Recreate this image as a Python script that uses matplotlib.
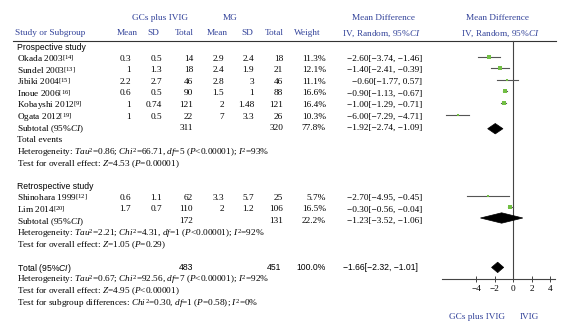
import matplotlib
matplotlib.use("Agg")
import matplotlib.pyplot as plt
from matplotlib.patches import Polygon

plt.rcParams["mathtext.fontset"] = "custom"
plt.rcParams["mathtext.rm"] = "Liberation Serif"
plt.rcParams["mathtext.it"] = "Liberation Serif:italic"
plt.rcParams["mathtext.bf"] = "Liberation Sans:italic"

# study data
pro_names = ["Okada 2003", "Sundel 2003", "Jibiki 2004", "Inoue 2006", "Kobayshi 2012", "Ogata 2012"]
pro_refs = ["14", "13", "15", "16", "9", "19"]
pro_g_mean = [0.3, 1, 2.2, 0.6, 1, 1]
pro_g_sd = [0.5, 1.3, 2.7, 0.5, 0.74, 0.5]
pro_g_n = [14, 18, 46, 90, 121, 22]
pro_m_mean = [2.9, 2.4, 2.8, 1.5, 2, 7]
pro_m_sd = [2.4, 1.9, 3, 1, 1.48, 3.3]
pro_m_n = [18, 21, 46, 88, 121, 26]
pro_weight = [11.3, 12.1, 11.1, 16.6, 16.4, 10.3]
pro_md = [-2.60, -1.40, -0.60, -0.90, -1.00, -6.00]
pro_lo = [-3.74, -2.41, -1.77, -1.13, -1.29, -7.29]
pro_hi = [-1.46, -0.39, 0.57, -0.67, -0.71, -4.71]

ret_names = ["Shinohara 1999", "Lim 2014"]
ret_refs = ["12", "20"]
ret_g_mean = [0.6, 1.7]
ret_g_sd = [1.1, 0.7]
ret_g_n = [62, 110]
ret_m_mean = [3.3, 2]
ret_m_sd = [5.7, 1.2]
ret_m_n = [25, 106]
ret_weight = [5.7, 16.5]
ret_md = [-2.70, -0.30]
ret_lo = [-4.95, -0.56]
ret_hi = [-0.45, -0.04]

# subtotals and overall
sub_g_n = [311, 172]
sub_m_n = [320, 131]
sub_weight = ["77.8%", "22.2%"]
sub_md = [-1.92, -1.23]
sub_lo = [-2.74, -3.52]
sub_hi = [-1.09, 1.06]
sub_text = ["\u22121.92[\u22122.74, \u22121.09]", "\u22121.23[\u22123.52, \u22121.06]"]
tot_g_n, tot_m_n = 483, 451
tot_md, tot_lo, tot_hi = -1.66, -2.32, -1.01

pro_het = "Heterogeneity: $\\mathit{Tau}^2$=0.86; $\\mathit{Chi}^2$=66.71, $\\mathit{df}$=5 ($\\mathit{P}$<0.00001); $\\mathit{I}^2$=93%"
pro_test = "Test for overall effect: $\\mathit{Z}$=4.53 ($\\mathit{P}$=0.00001)"
ret_het = "Heterogeneity: $\\mathit{Tau}^2$=2.21; $\\mathit{Chi}^2$=4.31, $\\mathit{df}$=1 ($\\mathit{P}$<0.00001); $\\mathit{I}^2$=92%"
ret_test = "Test for overall effect: $\\mathit{Z}$=1.05 ($\\mathit{P}$=0.29)"
tot_het = "Heterogeneity: $\\mathit{Tau}^2$=0.67; $\\mathit{Chi}^2$=92.56, $\\mathit{df}$=7 ($\\mathit{P}$<0.00001); $\\mathit{I}^2$=92%"
tot_test = "Test for overall effect: $\\mathit{Z}$=4.95 ($\\mathit{P}$<0.00001)"
sub_test = "Test for subgroup differences: $\\mathit{Chi}^2$=0.30, $\\mathit{df}$=1 ($\\mathit{P}$=0.58); $\\mathit{I}^2$=0%"

ticks = [-4, -2, 0, 2, 4]

W, H = 565, 331
BLUE = "#33439a"
SERIF = "Liberation Serif"
SANS = "Liberation Sans"
FS = 6.7
FSS = 6.2


def row(i):
    return 46 + 11.6 * i


def fmt(v):
    return str(v).replace("-", "\u2212")


def mdtext(m, lo, hi):
    return fmt(f"{m:.2f}[{lo:.2f}, {hi:.2f}]")


fig = plt.figure(figsize=(W / 100, H / 100), dpi=100)
tx = fig.add_axes([0, 0, 1, 1])
tx.set_xlim(0, W)
tx.set_ylim(H, 0)
tx.axis("off")

fx = fig.add_axes([442 / W, 0, (555 - 442) / W, 1])
fx.set_xlim(-7.68, 4.54)
fx.set_ylim(H, 0)
fx.patch.set_visible(False)


def put(x, y, s, ha="left", font=SERIF, size=FS, color="black"):
    tx.text(x, y, s, ha=ha, va="center_baseline", fontfamily=font, fontsize=size, color=color)


# column headers
put(160, 17, "GCs plus IVIG", "center", color=BLUE)
put(230, 17, "MG", "center", color=BLUE)
put(383, 17, "Mean Difference", "center", color=BLUE)
put(498, 17, "Mean Difference", "center", color=BLUE)
put(15, 32, "Study or Subgroup", color=BLUE)
for x, s in [(127, "Mean"), (153, "SD"), (184, "Total"), (217, "Mean"), (247, "SD"), (274, "Total"), (307, "Weight")]:
    put(x, 32, s, "center", color=BLUE)
put(381, 32, "IV, Random, 95%$\\mathit{CI}$", "center", color=BLUE)
put(500, 32, "IV, Random, 95%$\\mathit{CI}$", "center", color=BLUE)
tx.plot([13, 556], [40.5, 40.5], color="#333333", lw=0.8)


def study_rows(start, names, refs, gm, gsd, gn, mm, msd, mn, wt, md, lo, hi):
    for k in range(len(names)):
        y = row(start + k)
        put(17, y, names[k] + "$^{[" + refs[k] + "]}$")
        put(131, y, fmt(gm[k]), "right")
        put(162, y, fmt(gsd[k]), "right")
        put(193, y, fmt(gn[k]), "right")
        put(224, y, fmt(mm[k]), "right")
        put(254, y, fmt(msd[k]), "right")
        put(283, y, fmt(mn[k]), "right")
        put(326, y, f"{wt[k]:.1f}%", "right")
        put(422, y, mdtext(md[k], lo[k], hi[k]), "right")
        ym = y - 1
        fx.plot([lo[k], hi[k]], [ym, ym], color="#555555", lw=0.8, zorder=2)
        side = 0.27 * wt[k] * 0.72
        fx.scatter([md[k]], [ym], marker="s", s=side ** 2, color="#72bf44", lw=0, zorder=3)


def diamond(m, lo, hi, y, h=5.2):
    fx.add_patch(Polygon([(lo, y), (m, y - h), (hi, y), (m, y + h)], closed=True,
                         facecolor="black", edgecolor="black", lw=0.5, zorder=4))


# prospective subgroup
put(17, row(0), "Prospective study", font=SANS, size=FSS)
study_rows(1, pro_names, pro_refs, pro_g_mean, pro_g_sd, pro_g_n, pro_m_mean, pro_m_sd,
           pro_m_n, pro_weight, pro_md, pro_lo, pro_hi)
y = row(7)
put(17, y, "Subtotal (95%$\\mathit{CI}$)")
put(193, y, str(sub_g_n[0]), "right")
put(283, y, str(sub_m_n[0]), "right")
put(326, y, sub_weight[0], "right")
put(422, y, sub_text[0], "right")
diamond(sub_md[0], sub_lo[0], sub_hi[0], y + 1.5)
put(17, row(8), "Total events")
put(17, row(9), pro_het)
put(17, row(10), pro_test)

# retrospective subgroup
put(17, row(12), "Retrospective study", font=SANS, size=FSS)
study_rows(13, ret_names, ret_refs, ret_g_mean, ret_g_sd, ret_g_n, ret_m_mean, ret_m_sd,
           ret_m_n, ret_weight, ret_md, ret_lo, ret_hi)
y = row(15)
put(17, y, "Subtotal (95%$\\mathit{CI}$)")
put(193, y, str(sub_g_n[1]), "right")
put(283, y, str(sub_m_n[1]), "right")
put(326, y, sub_weight[1], "right")
put(422, y, sub_text[1], "right")
diamond(sub_md[1], sub_lo[1], sub_hi[1], y - 2)
put(17, row(16), ret_het)
put(17, row(17), ret_test)

# overall
y = row(19)
put(17, y, "Total (95%$\\mathbf{CI}$)", font=SANS, size=FSS)
put(193, y, str(tot_g_n), "right", font=SANS, size=FSS)
put(281, y, str(tot_m_n), "right", font=SANS, size=FSS)
put(326, y, "100.0%", "right", font=SANS, size=FSS)
put(343, y, mdtext(tot_md, tot_lo, tot_hi), font=SANS, size=FSS)
diamond(tot_md, tot_lo, tot_hi, y + 1)
put(17, row(20), tot_het)
put(17, row(21), tot_test)
put(17, row(22), sub_test)

# axis of the forest panel
fx.plot([0, 0], [40.5, 279], color="#444444", lw=0.8, zorder=1)
for s in ["top", "left", "right"]:
    fx.spines[s].set_visible(False)
fx.spines["bottom"].set_position(("data", 279))
fx.spines["bottom"].set_color("#444444")
fx.spines["bottom"].set_linewidth(0.8)
fx.set_yticks([])
fx.set_xticks(ticks)
fx.set_xticklabels([fmt(t) for t in ticks], fontfamily=SERIF, fontsize=FS)
fx.tick_params(axis="x", direction="inout", length=4, width=0.7, pad=2.5, color="#444444")

put(477, 316, "GCs plus IVIG", "center", color=BLUE)
put(529, 316, "IVIG", "center", color=BLUE)

fig.savefig("out.png", dpi=100)
